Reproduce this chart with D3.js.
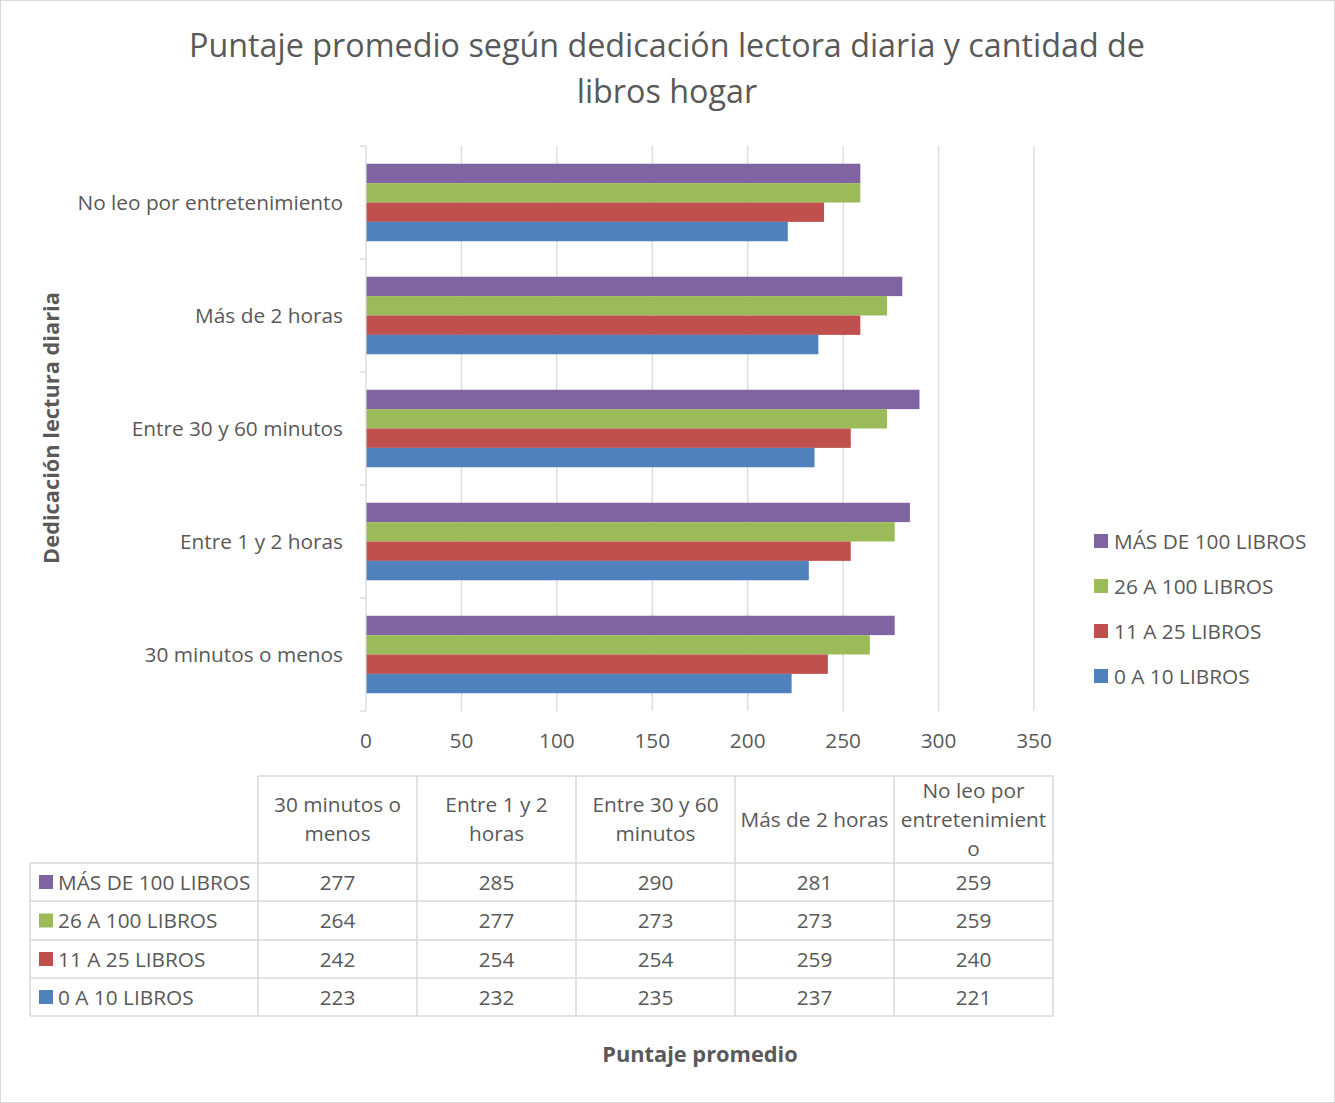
<!DOCTYPE html>
<html>
<head>
<meta charset="utf-8">
<script src="https://cdn.jsdelivr.net/npm/d3@7"></script>
<style>
  body { margin: 0; background: #fff; }
  text { font-family: "Open Sans", "Noto Sans", sans-serif; fill: #595959; }
</style>
</head>
<body>
<div id="chart"></div>
<script>
// chart size
const width = 1335;
const height = 1103;
const fs = "20.8px";

// data
const categories = ["30 minutos o menos", "Entre 1 y 2 horas", "Entre 30 y 60 minutos", "Más de 2 horas", "No leo por entretenimiento"];
const headerLines = [["30 minutos o", "menos"], ["Entre 1 y 2", "horas"], ["Entre 30 y 60", "minutos"], ["Más de 2 horas"], ["No leo por", "entretenimient", "o"]];
const seriesNames = ["MÁS DE 100 LIBROS", "26 A 100 LIBROS", "11 A 25 LIBROS", "0 A 10 LIBROS"];
const mas100 = [277, 285, 290, 281, 259];
const de26a100 = [264, 277, 273, 273, 259];
const de11a25 = [242, 254, 254, 259, 240];
const de0a10 = [223, 232, 235, 237, 221];
const xTicks = [0, 50, 100, 150, 200, 250, 300, 350];
const colors = ["#8064A2", "#9BBB59", "#C0504D", "#4F81BD"];

const values = [mas100, de26a100, de11a25, de0a10];

const svg = d3.select("#chart")
  .append("svg")
  .attr("width", width)
  .attr("height", height);

// outer border
svg.append("rect")
  .attr("x", 0.5).attr("y", 0.5)
  .attr("width", width - 1).attr("height", height - 1)
  .attr("fill", "#fff")
  .attr("stroke", "#d9d9d9");

// title
svg.append("text")
  .attr("x", 667).attr("y", 57)
  .attr("text-anchor", "middle")
  .attr("font-size", "32.3px")
  .text("Puntaje promedio según dedicación lectora diaria y cantidad de");
svg.append("text")
  .attr("x", 667).attr("y", 103)
  .attr("text-anchor", "middle")
  .attr("font-size", "32.3px")
  .text("libros hogar");

// scales
const xScale = d3.scaleLinear()
  .domain([0, 350])
  .range([366, 1034]);

// categories go bottom to top
const yScale = d3.scaleBand()
  .domain(categories.map((d, i) => i))
  .range([711, 146])
  .paddingInner(0.314)
  .paddingOuter(0.157);

const ySub = d3.scaleBand()
  .domain(d3.range(seriesNames.length))
  .range([0, yScale.bandwidth()]);

// gridlines
svg.append("g")
  .selectAll("line")
  .data(xTicks.slice(1))
  .join("line")
  .attr("x1", d => xScale(d)).attr("x2", d => xScale(d))
  .attr("y1", 146).attr("y2", 711)
  .attr("stroke", "#d9d9d9")
  .attr("stroke-width", 1.3);

// bars
const groups = svg.append("g")
  .selectAll("g")
  .data(categories)
  .join("g")
  .attr("transform", (d, i) => `translate(0,${yScale(i)})`);

groups.selectAll("rect")
  .data((d, i) => values.map((s, k) => ({ k: k, v: s[i] })))
  .join("rect")
  .attr("x", xScale(0))
  .attr("y", d => ySub(d.k))
  .attr("width", d => xScale(d.v) - xScale(0))
  .attr("height", ySub.bandwidth())
  .attr("fill", d => colors[d.k]);

// y axis line and ticks
const boundaries = d3.range(categories.length + 1).map(i => 711 - i * yScale.step());
svg.append("line")
  .attr("x1", 366).attr("x2", 366)
  .attr("y1", 146).attr("y2", 711)
  .attr("stroke", "#d9d9d9").attr("stroke-width", 1.3);
svg.append("g")
  .selectAll("line")
  .data(boundaries)
  .join("line")
  .attr("x1", 360).attr("x2", 366)
  .attr("y1", d => d).attr("y2", d => d)
  .attr("stroke", "#d9d9d9").attr("stroke-width", 1.3);

// category labels
svg.append("g")
  .selectAll("text")
  .data(categories)
  .join("text")
  .attr("x", 343)
  .attr("y", (d, i) => yScale(i) + yScale.bandwidth() / 2 + 7)
  .attr("text-anchor", "end")
  .attr("font-size", fs)
  .text(d => d);

// x tick labels
svg.append("g")
  .selectAll("text")
  .data(xTicks)
  .join("text")
  .attr("x", d => xScale(d))
  .attr("y", 748)
  .attr("text-anchor", "middle")
  .attr("font-size", fs)
  .text(d => d);

// y axis title
svg.append("text")
  .attr("transform", "translate(59,428) rotate(-90)")
  .attr("text-anchor", "middle")
  .attr("font-size", "21.8px")
  .attr("font-weight", "bold")
  .text("Dedicación lectura diaria");

// x axis title
svg.append("text")
  .attr("x", 700).attr("y", 1062)
  .attr("text-anchor", "middle")
  .attr("font-size", "21.8px")
  .attr("font-weight", "bold")
  .text("Puntaje promedio");

// legend
const legend = svg.append("g")
  .selectAll("g")
  .data(seriesNames)
  .join("g")
  .attr("transform", (d, i) => `translate(1094,${541 + i * 45})`);
legend.append("rect")
  .attr("x", 0).attr("y", -7)
  .attr("width", 14).attr("height", 14)
  .attr("fill", (d, i) => colors[i]);
legend.append("text")
  .attr("x", 20).attr("y", 7.5)
  .attr("font-size", fs)
  .text(d => d);

// data table
const colX = d3.range(categories.length + 1).map(i => 258 + i * 159);
const rowY = [776, 863, 901, 940, 978, 1016];
const tbl = svg.append("g")
  .attr("stroke", "#d9d9d9").attr("stroke-width", 1.5);
// header border
tbl.append("line").attr("x1", 258).attr("x2", 1053).attr("y1", 776).attr("y2", 776);
rowY.slice(1).forEach(y => {
  tbl.append("line").attr("x1", 30).attr("x2", 1053).attr("y1", y).attr("y2", y);
});
colX.forEach(x => {
  tbl.append("line").attr("x1", x).attr("x2", x).attr("y1", 776).attr("y2", 1016);
});
tbl.append("line").attr("x1", 30).attr("x2", 30).attr("y1", 863).attr("y2", 1016);

// header text
headerLines.forEach((lines, i) => {
  const cx = (colX[i] + colX[i + 1]) / 2;
  const lh = 29;
  const top = (776 + 863) / 2 - (lines.length - 1) * lh / 2 + 7;
  lines.forEach((l, j) => {
    svg.append("text")
      .attr("x", cx).attr("y", top + j * lh)
      .attr("text-anchor", "middle")
      .attr("font-size", fs)
      .text(l);
  });
});

// row labels and values
seriesNames.forEach((name, k) => {
  const cy = (rowY[k + 1] + rowY[k + 2]) / 2;
  svg.append("rect")
    .attr("x", 39).attr("y", cy - 7)
    .attr("width", 14).attr("height", 14)
    .attr("fill", colors[k]);
  svg.append("text")
    .attr("x", 58).attr("y", cy + 7.5)
    .attr("font-size", fs)
    .text(name);
  values[k].forEach((v, i) => {
    svg.append("text")
      .attr("x", (colX[i] + colX[i + 1]) / 2)
      .attr("y", cy + 7.5)
      .attr("text-anchor", "middle")
      .attr("font-size", fs)
      .text(v);
  });
});
</script>
</body>
</html>
